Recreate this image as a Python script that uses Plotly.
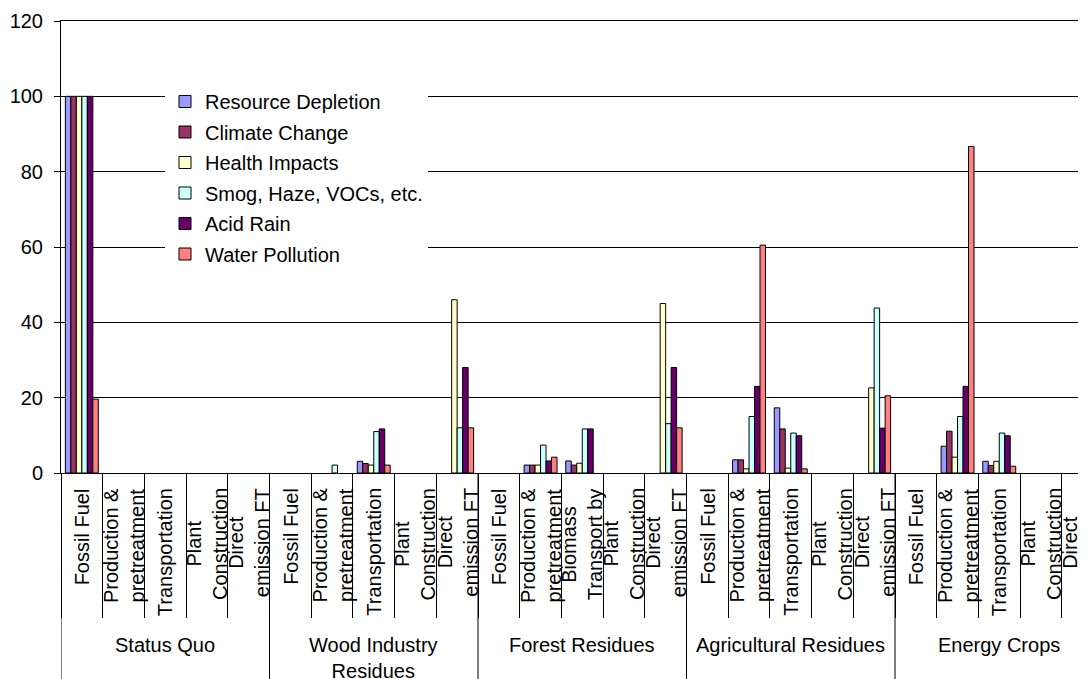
import plotly.graph_objects as go

groups = ["Status Quo", "Wood Industry<br>Residues", "Forest Residues",
          "Agricultural Residues", "Energy Crops"]
stages_std = ["Fossil Fuel", "Production &<br>pretreatment", "Transportation",
              "Plant<br>Construction", "Direct<br>emission FT"]
stages_forest = ["Fossil Fuel", "Production &<br>pretreatment", "Biomass<br>Transport by",
                 "Plant<br>Construction", "Direct<br>emission FT"]
group_stages = [stages_std, stages_std, stages_forest, stages_std, stages_std]

series_names = ["Resource Depletion", "Climate Change", "Health Impacts",
                "Smog, Haze, VOCs, etc.", "Acid Rain", "Water Pollution"]
series_colors = ["#9999FF", "#993366", "#FFFFCC", "#CCFFFF", "#660066", "#FF8080"]

resource_depletion = [100, 0, 0, 0, 0,  0, 0, 3.1, 0, 0,  0, 2.1, 3.2, 0, 0,
                      0, 3.5, 17.3, 0, 0,  0, 7.1, 3.1, 0, 0]
climate_change = [100, 0, 0, 0, 0,  0, 0, 2.5, 0, 0,  0, 2.1, 2.1, 0, 0,
                  0, 3.5, 11.7, 0, 0,  0, 11.1, 2.0, 0, 0]
health_impacts = [100, 0, 0, 0, 0,  0, 0, 2.1, 0, 46.0,  0, 2.1, 2.6, 0, 45.0,
                  0, 1.1, 1.3, 0, 22.6,  0, 4.2, 3.1, 0, 0]
smog = [100, 0, 0, 0, 0,  0, 2.1, 11.0, 0, 12.0,  0, 7.4, 11.7, 0, 13.1,
        0, 15.0, 10.6, 0, 43.8,  0, 15.0, 10.6, 0, 43.8]
acid_rain = [100, 0, 0, 0, 0,  0, 0, 11.7, 0, 28.0,  0, 3.2, 11.7, 0, 28.0,
             0, 23.0, 9.9, 0, 11.9,  0, 23.0, 9.9, 0, 11.9]
water_pollution = [19.6, 0, 0, 0, 0,  0, 0, 2.1, 0, 12.0,  0, 4.2, 0, 0, 12.0,
                   0, 60.5, 1.1, 0, 20.5,  0, 86.7, 1.8, 0, 20.5]

series_values = [resource_depletion, climate_change, health_impacts,
                 smog, acid_rain, water_pollution]

y_ticks = [0, 20, 40, 60, 80, 100, 120]

# unique category keys
x_keys, x_stage = [], []
for g, stages in zip(groups, group_stages):
    for s in stages:
        x_keys.append(g.replace("<br>", " ") + " | " + s.replace("<br>", " "))
        x_stage.append(s)

FONT = "Arial, Liberation Sans, sans-serif"
FS = 20
OFF = 8                      # page body margin
W, H = 1086 - OFF, 679 - OFF
ML, MT = 61 - OFF, 21 - OFF
PH = 452
MB = H - MT - PH
PW = W - ML
cat_px = 41.7
x_end = -0.5 + PW / cat_px
PLOT_BOTTOM = OFF + MT + PH  # in page pixels

def py(px):  # page pixel y -> paper y
    return (PLOT_BOTTOM - px) / PH

fig = go.Figure()
for name, color, vals in zip(series_names, series_colors, series_values):
    fig.add_trace(go.Bar(
        x=x_keys, y=vals, name=name, legendgroup=name,
        marker=dict(color=color,
                    line=dict(color="#000000",
                              width=[1 if v > 0 else 0 for v in vals])),
    ))

annotations = []
for key, stage in zip(x_keys, x_stage):
    annotations.append(dict(
        x=key, xref="x", y=py(486), yref="paper", text=stage, textangle=-90,
        showarrow=False, xanchor="center", yanchor="top", align="center",
        font=dict(family=FONT, size=FS, color="#000000")))
for gi, g in enumerate(groups):
    annotations.append(dict(
        x=x_keys[gi * 5 + 2], xref="x", y=py(632), yref="paper", text=g,
        showarrow=False, xanchor="center", yanchor="top", align="center",
        font=dict(family=FONT, size=FS, color="#000000")))

shapes = []
for gi in range(len(groups)):
    b = gi * 5 - 0.5
    shapes.append(dict(type="line", xref="x", yref="paper", x0=b, x1=b,
                       y0=0, y1=py(690), line=dict(color="#000000", width=1)))

fig.update_layout(
    width=W, height=H,
    margin=dict(l=ML, r=0, t=MT, b=MB, pad=0, autoexpand=False),
    paper_bgcolor="white", plot_bgcolor="white",
    barmode="group", bargap=0.21, bargroupgap=0,
    font=dict(family=FONT, size=FS, color="#000000"),
    showlegend=True,
    legend=dict(x=(165 - OFF - ML) / PW, xanchor="left", y=py(82), yanchor="top",
                bgcolor="white", borderwidth=0, tracegroupgap=1.5,
                font=dict(family=FONT, size=FS, color="#000000")),
    annotations=annotations,
    shapes=shapes,
)
fig.update_xaxes(
    type="category", categoryorder="array", categoryarray=x_keys,
    range=[-0.5, x_end], showticklabels=False, automargin=False,
    ticks="outside", tickson="boundaries", ticklen=144, tickwidth=1,
    tickcolor="#000000", showgrid=False, showline=True, linecolor="#000000",
    linewidth=1, mirror=True, zeroline=False,
)
fig.update_yaxes(
    range=[0, 120], tickvals=y_ticks, ticks="outside", ticklen=6,
    tickcolor="#000000", ticklabelstandoff=7, automargin=False,
    showgrid=True, gridcolor="#000000", gridwidth=1,
    showline=True, linecolor="#000000", linewidth=1, zeroline=False,
    tickfont=dict(family=FONT, size=FS, color="#000000"),
)

fig.write_html("out.html")
